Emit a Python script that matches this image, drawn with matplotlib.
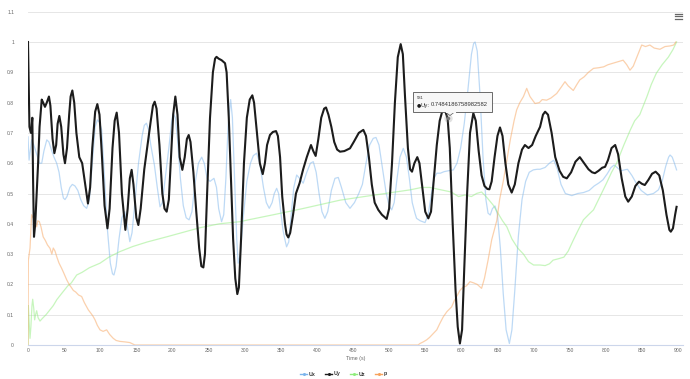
import matplotlib
matplotlib.use("Agg")
from matplotlib import pyplot as plt
from matplotlib.lines import Line2D
from matplotlib.patches import Rectangle, Polygon

plt.rcParams["font.family"] = ["Liberation Sans", "DejaVu Sans"]

# Series names and colours (Highcharts defaults, Uy is the hovered one)
SERIES_NAMES = ["Ux", "Uy", "Uz", "p"]
SERIES_COLORS = ["#7cb5ec", "#1c1c1c", "#90ed7d", "#f7a35c"]
X_TICKS = list(range(0, 901, 50))
Y_TICKS = [round(0.1 * i, 1) for i in range(12)]
HOVER_TIME = 581
HOVER_VALUE = 0.7484186758982582

# (time, value) pairs
UX = [(0, 0.687), (1.5, 0.61), (3, 0.64), (5, 0.677), (8, 0.66), (12, 0.63), (16, 0.60), (19, 0.60),
      (22, 0.64), (26, 0.677), (29, 0.67), (33, 0.64), (36, 0.62), (39.7, 0.60), (43, 0.57), (46, 0.52),
      (49, 0.485), (51.2, 0.48), (54, 0.49), (58, 0.52), (61.4, 0.53), (65, 0.525), (69, 0.51), (73, 0.48),
      (77, 0.46), (81.2, 0.451), (85, 0.48), (89, 0.60), (93, 0.72), (96, 0.743), (99, 0.735), (102, 0.71),
      (106, 0.55), (110, 0.38), (114, 0.27), (117, 0.235), (119, 0.231), (122, 0.26), (126, 0.35),
      (130, 0.42), (134, 0.44), (137, 0.40), (141, 0.341), (144, 0.37), (148, 0.47), (153, 0.60),
      (158, 0.69), (161, 0.725), (164, 0.732), (167, 0.71), (170, 0.66), (175, 0.594), (179, 0.52),
      (182.8, 0.456), (186, 0.47), (190, 0.55), (195, 0.65), (199, 0.74), (201, 0.765), (204, 0.75),
      (207, 0.68), (211, 0.55), (215, 0.46), (219, 0.42), (223, 0.413), (227, 0.44), (231, 0.53),
      (236, 0.60), (240.5, 0.62), (244, 0.60), (248, 0.55), (252, 0.54), (257.5, 0.55), (261, 0.52),
      (264, 0.45), (268, 0.407), (271, 0.43), (274, 0.55), (277, 0.72), (280.6, 0.81), (283, 0.75),
      (286, 0.55), (289, 0.35), (291, 0.27), (294, 0.30), (298, 0.42), (303, 0.54), (308, 0.60),
      (312, 0.625), (316.6, 0.633), (321, 0.60), (326, 0.52), (330, 0.47), (334, 0.451), (338, 0.47),
      (341, 0.50), (344.3, 0.517), (347, 0.50), (350, 0.44), (353, 0.38), (355.8, 0.347), (358, 0.324),
      (361, 0.34), (364, 0.42), (368, 0.52), (372, 0.561), (376, 0.55), (381, 0.534), (386, 0.57),
      (391, 0.60), (395, 0.605), (399, 0.57), (403, 0.50), (407, 0.44), (411, 0.418), (415, 0.44),
      (420, 0.51), (425, 0.55), (429.6, 0.553), (434, 0.52), (440, 0.47), (445.8, 0.451), (452, 0.47),
      (458, 0.50), (463, 0.53), (468, 0.60), (473, 0.66), (478, 0.682), (481.8, 0.685), (486, 0.66),
      (491, 0.58), (496, 0.50), (500, 0.46), (503.6, 0.446), (507, 0.47), (511, 0.55), (515, 0.62),
      (519.6, 0.649), (524, 0.62), (528, 0.55), (532, 0.47), (535.8, 0.435), (538, 0.418), (543, 0.41),
      (549.7, 0.404), (554, 0.43), (558, 0.49), (562, 0.55), (566, 0.567), (571, 0.567), (576, 0.572),
      (582, 0.575), (589, 0.578), (594, 0.60), (599, 0.65), (604, 0.73), (609, 0.84), (614, 0.96),
      (617, 0.995), (619, 1.0), (622, 0.97), (626, 0.82), (630, 0.62), (634, 0.48), (637, 0.435),
      (640, 0.429), (643, 0.45), (646.6, 0.459), (650, 0.43), (654, 0.32), (658, 0.17), (662, 0.05),
      (666.5, 0.005), (670, 0.05), (674, 0.18), (679, 0.36), (684, 0.48), (689, 0.54), (694, 0.57),
      (699.7, 0.578), (705, 0.58), (709, 0.58), (716, 0.586), (722, 0.60), (728, 0.61), (733, 0.58),
      (738, 0.53), (744, 0.50), (753, 0.493), (761, 0.50), (769, 0.503), (777, 0.51), (784, 0.525),
      (790, 0.534), (796, 0.545), (802, 0.565), (807, 0.585), (811.5, 0.594), (816, 0.585), (821, 0.575),
      (826, 0.578), (830, 0.58), (836, 0.56), (842, 0.535), (849, 0.51), (857.5, 0.495), (866, 0.50),
      (872.8, 0.512), (878, 0.54), (883, 0.59), (887, 0.62), (889, 0.627), (892, 0.62), (895, 0.60),
      (898, 0.578)]

UY = [(0, 1.0), (1, 0.85), (2, 0.72), (3, 0.71), (4, 0.70), (5, 0.72), (6, 0.75), (7, 0.55), (8.3, 0.357),
      (10, 0.40), (12, 0.50), (14, 0.60), (16, 0.72), (19, 0.81), (21, 0.80), (23.5, 0.786), (26, 0.80),
      (29, 0.82), (31, 0.79), (34, 0.68), (36.5, 0.633), (39, 0.66), (41, 0.73), (43.4, 0.756), (46, 0.72),
      (49, 0.63), (51.2, 0.60), (54, 0.65), (57, 0.76), (59, 0.82), (61.4, 0.84), (64, 0.80), (67, 0.70),
      (71, 0.62), (75, 0.60), (78, 0.55), (83, 0.467), (86, 0.52), (89, 0.65), (93, 0.77), (96, 0.795),
      (99, 0.76), (102, 0.64), (106, 0.46), (110, 0.385), (113, 0.45), (117, 0.65), (120, 0.74),
      (122.8, 0.767), (126, 0.70), (130, 0.50), (134.8, 0.38), (138, 0.45), (141, 0.55), (143.5, 0.578),
      (146, 0.53), (150, 0.42), (152.8, 0.396), (156, 0.45), (161, 0.58), (166, 0.67), (170, 0.74),
      (173, 0.79), (175.4, 0.803), (178, 0.78), (182, 0.66), (186, 0.50), (189, 0.45), (192, 0.44),
      (195, 0.48), (198, 0.62), (201, 0.76), (204, 0.82), (207, 0.76), (210, 0.62), (213.7, 0.578),
      (217, 0.62), (220, 0.68), (222.5, 0.693), (225, 0.67), (229, 0.57), (233, 0.44), (237, 0.32),
      (240, 0.26), (242.8, 0.256), (245, 0.30), (248, 0.50), (252, 0.75), (256, 0.90), (259, 0.945),
      (261, 0.951), (264, 0.945), (268, 0.94), (272.8, 0.93), (275, 0.90), (278, 0.75), (281, 0.55),
      (284, 0.35), (287, 0.22), (289.8, 0.168), (292, 0.19), (295, 0.35), (299, 0.60), (303, 0.75),
      (307, 0.81), (310.6, 0.824), (313, 0.80), (317, 0.70), (321, 0.60), (325, 0.564), (328, 0.60),
      (331, 0.66), (335, 0.693), (339, 0.703), (343.4, 0.706), (346, 0.69), (349, 0.62), (352, 0.49),
      (355.8, 0.40), (358, 0.365), (360.4, 0.355), (363, 0.37), (367, 0.43), (371, 0.50), (376, 0.534),
      (381, 0.58), (386, 0.62), (391.8, 0.66), (395, 0.64), (398.3, 0.624), (402, 0.68), (406, 0.75),
      (410, 0.78), (412.6, 0.784), (416, 0.76), (420, 0.72), (424, 0.67), (428, 0.645), (432, 0.638),
      (438, 0.64), (445.8, 0.649), (451, 0.67), (458, 0.70), (464.3, 0.71), (468, 0.69), (472, 0.62),
      (476, 0.53), (480, 0.47), (485, 0.446), (490, 0.43), (496.6, 0.416), (500, 0.45), (504, 0.60),
      (508, 0.80), (512, 0.95), (516, 0.993), (519, 0.96), (522, 0.82), (526, 0.65), (529, 0.58),
      (531.7, 0.572), (535, 0.60), (539, 0.62), (542, 0.60), (546, 0.52), (550, 0.44), (554.3, 0.418),
      (558, 0.44), (562, 0.55), (566, 0.66), (570, 0.74), (574, 0.775), (576.5, 0.78), (581, 0.748),
      (584, 0.65), (588, 0.40), (592, 0.18), (595, 0.06), (598, 0.005), (601, 0.05), (604, 0.25),
      (608, 0.50), (612, 0.70), (616.6, 0.765), (620, 0.74), (624, 0.64), (628, 0.56), (632, 0.525),
      (636, 0.515), (638.8, 0.514), (642, 0.54), (646, 0.62), (650, 0.69), (653.5, 0.718), (657, 0.69),
      (661, 0.60), (665, 0.53), (669.7, 0.503), (674, 0.53), (679, 0.60), (684, 0.645), (688, 0.66),
      (693, 0.65), (698, 0.66), (703, 0.69), (709, 0.72), (713, 0.76), (716, 0.77), (720, 0.76),
      (725, 0.70), (730, 0.62), (736, 0.575), (741, 0.555), (746, 0.55), (752, 0.57), (758, 0.605),
      (764, 0.62), (770, 0.60), (776, 0.58), (781, 0.57), (785, 0.567), (790, 0.575), (795, 0.585),
      (799, 0.588), (803, 0.61), (808, 0.65), (813, 0.66), (817, 0.63), (822, 0.55), (827, 0.49),
      (831, 0.473), (836, 0.49), (841, 0.525), (846, 0.539), (850, 0.532), (854, 0.528), (859, 0.545),
      (864, 0.565), (869, 0.572), (874, 0.56), (879, 0.51), (884, 0.43), (888, 0.38), (890, 0.374),
      (893, 0.385), (896, 0.43), (898, 0.456)]

UZ = [(0, 0.0), (0.5, 0.13), (1.5, 0.08), (2.8, 0.022), (4, 0.06), (5.5, 0.13), (6.5, 0.151), (8, 0.12),
      (9.2, 0.083), (10.5, 0.10), (12, 0.113), (14, 0.09), (16.6, 0.079), (20, 0.088), (25, 0.10),
      (30, 0.115), (35, 0.13), (40, 0.15), (46.6, 0.17), (55, 0.195), (60, 0.205), (67.4, 0.231),
      (75, 0.24), (85, 0.255), (99.7, 0.27), (112, 0.29), (127, 0.308), (145, 0.325), (165, 0.34),
      (192, 0.357), (215, 0.372), (238, 0.387), (265, 0.40), (293.5, 0.407), (305, 0.413), (340, 0.43),
      (380, 0.45), (432, 0.478), (480, 0.495), (529, 0.512), (545, 0.52), (556.6, 0.52), (566, 0.515),
      (576, 0.51), (586, 0.505), (596, 0.49), (605, 0.495), (614, 0.49), (621, 0.50), (628, 0.505),
      (636, 0.485), (644, 0.462), (652, 0.43), (657, 0.41), (663, 0.39), (670, 0.35), (678, 0.32),
      (686, 0.30), (693, 0.275), (700, 0.264), (709, 0.264), (716, 0.262), (722, 0.268), (727, 0.28),
      (735, 0.285), (742, 0.29), (748, 0.31), (755, 0.346), (762, 0.38), (769, 0.413), (776, 0.43),
      (783, 0.446), (792, 0.49), (801, 0.534), (808, 0.57), (815, 0.60), (825, 0.66), (834, 0.71),
      (840, 0.74), (847, 0.76), (852, 0.79), (857, 0.82), (863, 0.86), (870, 0.897), (878, 0.925),
      (886.6, 0.95), (893, 0.975), (898, 1.0)]

P = [(0, 0.0), (0.5, 0.28), (2.8, 0.32), (4, 0.38), (5, 0.43), (7, 0.42), (9.7, 0.41), (12, 0.39),
     (13.5, 0.41), (15.7, 0.407), (18, 0.39), (21, 0.357), (24, 0.345), (27, 0.33), (30.5, 0.319),
     (33, 0.30), (35, 0.32), (37.4, 0.31), (40, 0.29), (43, 0.27), (46.6, 0.253), (50, 0.235),
     (53.6, 0.215), (57, 0.20), (60, 0.19), (62.8, 0.18), (66, 0.175), (70, 0.165), (74.3, 0.16),
     (78, 0.14), (83.5, 0.116), (87, 0.105), (90, 0.095), (92.8, 0.083), (96, 0.065), (99.7, 0.05),
     (104, 0.045), (108.9, 0.05), (113, 0.035), (118, 0.022), (122, 0.015), (127, 0.012), (135, 0.01),
     (141, 0.008), (148, 0.0), (540, 0.0), (542.8, 0.005), (547, 0.01), (552, 0.017), (556, 0.025),
     (560, 0.035), (566, 0.05), (570, 0.07), (575, 0.093), (580, 0.11), (586.6, 0.126), (590, 0.145),
     (593.5, 0.16), (598, 0.18), (602, 0.19), (607, 0.195), (612, 0.209), (617, 0.205), (622, 0.2),
     (628, 0.187), (632, 0.22), (637, 0.28), (642, 0.347), (649, 0.41), (653, 0.48), (658, 0.54),
     (663, 0.61), (668, 0.68), (673, 0.74), (676.6, 0.776), (681, 0.80), (686, 0.82), (690.5, 0.847),
     (695, 0.82), (702, 0.797), (708, 0.80), (712, 0.81), (718, 0.808), (724, 0.815), (732, 0.83),
     (738, 0.85), (743.5, 0.869), (748, 0.855), (755, 0.84), (760, 0.86), (764, 0.875), (770, 0.885),
     (776, 0.90), (783, 0.913), (790, 0.915), (797, 0.918), (803, 0.925), (810, 0.93), (817, 0.935),
     (824, 0.94), (829, 0.925), (833.5, 0.907), (838, 0.92), (843, 0.95), (849.7, 0.99), (855, 0.985),
     (861, 0.99), (867, 0.98), (875, 0.976), (882, 0.985), (889, 0.987), (894, 0.99), (897, 1.0)]

W, H = 690, 379


def fx(px):
    return px / W


def fy(py):
    return 1 - py / H


fig = plt.figure(figsize=(W / 100, H / 100), dpi=100)
ax = fig.add_axes([fx(28), fy(345), fx(683 - 28), (345 - 11.7) / H])

# Faded series first, the hovered one (Uy) on top
for data, color in zip([UX, UZ, P], [SERIES_COLORS[0], SERIES_COLORS[2], SERIES_COLORS[3]]):
    t, v = zip(*data)
    ax.plot(t, v, color=color, lw=0.9, alpha=0.5, zorder=2, solid_joinstyle="round")
t, v = zip(*UY)
ax.plot(t, v, color=SERIES_COLORS[1], lw=1.5, zorder=3, solid_joinstyle="round")

# Hover marker with halo
ax.plot([HOVER_TIME], [HOVER_VALUE], "o", ms=6, color="#888888", alpha=0.25, mec="none", zorder=4)
ax.plot([HOVER_TIME], [HOVER_VALUE], "o", ms=2.5, color="#777777", mec="none", zorder=5)

ax.set_xlim(0, 906.9)
ax.set_ylim(0, 1.1)
ax.set_xticks(X_TICKS)
ax.set_yticks(Y_TICKS)
ax.set_yticklabels(["{:g}".format(y) for y in Y_TICKS])
ax.tick_params(axis="both", length=0, labelsize=3.6, colors="#666666")
ax.tick_params(axis="y", pad=10)
ax.tick_params(axis="x", pad=2.5)
ax.grid(axis="y", color="#e6e6e6", lw=0.7)
ax.set_axisbelow(True)
for side in ["top", "right", "left"]:
    ax.spines[side].set_visible(False)
ax.spines["bottom"].set_color("#ccd6eb")
ax.spines["bottom"].set_linewidth(0.8)
ax.set_xlabel("Time (s)", fontsize=3.8, color="#666666", labelpad=2)

# Legend drawn by hand to sit like the reference
legend_x = [300, 325, 350, 375]
for name, color, x0 in zip(SERIES_NAMES, SERIES_COLORS, legend_x):
    fig.add_artist(Line2D([fx(x0), fx(x0 + 7)], [fy(374), fy(374)], color=color, lw=1.0))
    fig.add_artist(Line2D([fx(x0 + 3.5)], [fy(374)], marker="o", ms=2.2, color=color, mec="none"))
    fig.text(fx(x0 + 9), fy(374), name, fontsize=3.8, color="#333333", fontweight="bold",
             ha="left", va="center")

# Menu icon
for py in [14, 16.3, 18.6]:
    fig.add_artist(Line2D([fx(675), fx(682)], [fy(py), fy(py)], color="#666666", lw=0.9))

# Tooltip
fig.add_artist(Rectangle((fx(413.7), fy(112.7)), fx(79), 20 / H, facecolor="#000000", alpha=0.08,
                         edgecolor="none", transform=fig.transFigure))
fig.add_artist(Polygon([[fx(445), fy(111.7)], [fx(455), fy(111.7)], [fx(450), fy(115.5)]],
                       closed=True, facecolor="#f7f7f7", edgecolor="#555555", lw=0.5,
                       transform=fig.transFigure))
fig.add_artist(Rectangle((fx(412.7), fy(111.7)), fx(79), 20 / H, facecolor="#f7f7f7",
                         edgecolor="#555555", lw=0.6, transform=fig.transFigure))
fig.add_artist(Line2D([fx(445.5), fx(454.5)], [fy(111.7), fy(111.7)], color="#f7f7f7", lw=0.8))
fig.text(fx(416.5), fy(98), str(HOVER_TIME), fontsize=3, color="#333333", ha="left", va="center")
fig.text(fx(416.5), fy(105), "\u25cf", fontsize=3.5, color=SERIES_COLORS[1], ha="left", va="center",
         family=["DejaVu Sans"])
fig.text(fx(421), fy(105), "Uy:", fontsize=4.2, color="#333333", ha="left", va="center")
fig.text(fx(430.5), fy(105), "{}".format(HOVER_VALUE), fontsize=4.2, color="#333333",
         ha="left", va="center")

fig.savefig("out.png", dpi=100)
